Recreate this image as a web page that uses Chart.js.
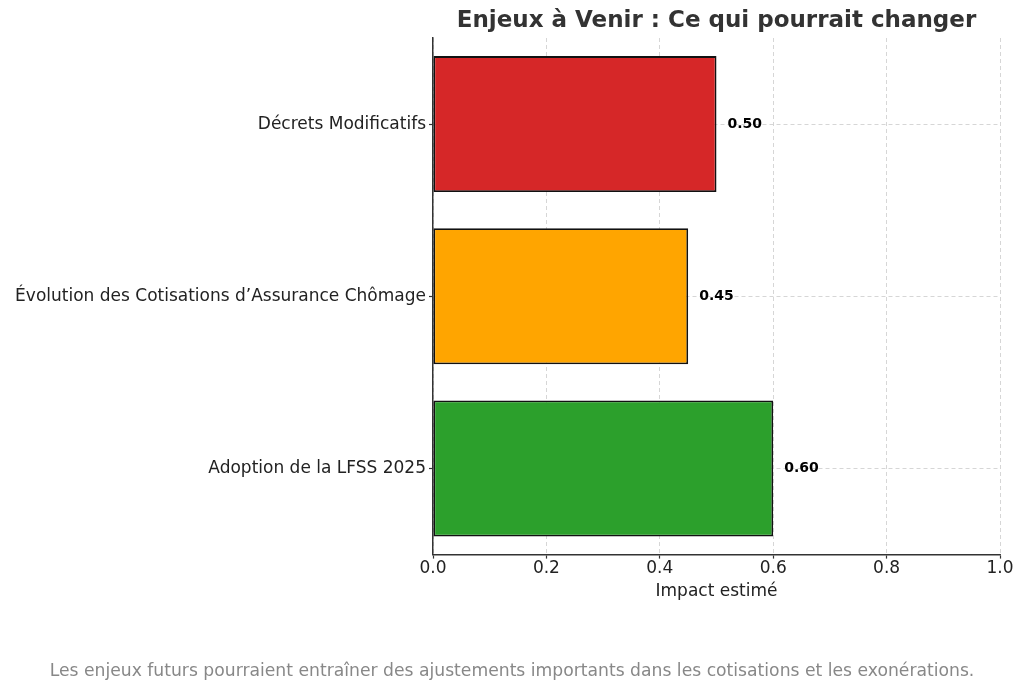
<!DOCTYPE html>
<html lang="fr">
<head>
<meta charset="utf-8">
<script src="https://cdn.jsdelivr.net/npm/chart.js@4"></script>
<style>
  html, body { margin: 0; padding: 0; background: #fff; }
  #wrap { width: 1024px; height: 692px; }
</style>
</head>
<body>
<div id="wrap"><canvas id="chart" width="1024" height="692"></canvas></div>
<script>
// Data
const categories = [
  "Décrets Modificatifs",
  "Évolution des Cotisations d’Assurance Chômage",
  "Adoption de la LFSS 2025"
];
const impacts = [0.50, 0.45, 0.60];
const barColors = ["#d62728", "#ffa500", "#2ca02c"];
const xTicks = [0, 0.2, 0.4, 0.6, 0.8, 1.0];

const titleText = "Enjeux à Venir : Ce qui pourrait changer";
const captionText = "Les enjeux futurs pourraient entraîner des ajustements importants dans les cotisations et les exonérations.";

const FONT = "'DejaVu Sans', sans-serif";

// value labels next to each bar, plus the title and the caption
const annotate = {
  id: "annotate",
  afterDatasetsDraw(chart) {
    const ctx = chart.ctx;
    const meta = chart.getDatasetMeta(0);
    ctx.save();
    ctx.font = "bold 14px " + FONT;
    ctx.fillStyle = "#000";
    ctx.textAlign = "left";
    ctx.textBaseline = "middle";
    meta.data.forEach((bar, i) => {
      ctx.fillText(impacts[i].toFixed(2), bar.x + 11, bar.y);
    });
    ctx.restore();
  },
  afterDraw(chart) {
    const ctx = chart.ctx;
    const area = chart.chartArea;
    ctx.save();
    ctx.textAlign = "center";
    ctx.textBaseline = "middle";
    ctx.font = "bold 23px " + FONT;
    ctx.fillStyle = "#333";
    ctx.fillText(titleText, (area.left + area.right) / 2, 21);
    ctx.font = "17.2px " + FONT;
    ctx.fillStyle = "#888";
    ctx.fillText(captionText, 512, 672);
    ctx.restore();
  }
};

const gridOpts = {
  color: "#cccccc",
  lineWidth: 0.8,
  tickColor: "#333",
  tickBorderDash: [],
  tickLength: 4,
  tickWidth: 1.2
};
const borderOpts = { display: true, color: "#333", width: 1.5, dash: [4, 3] };

new Chart(document.getElementById("chart"), {
  type: "bar",
  data: {
    labels: categories,
    datasets: [{
      data: impacts,
      backgroundColor: barColors,
      borderColor: "#111",
      borderWidth: 1.8,
      borderSkipped: false,
      barPercentage: 0.79,
      categoryPercentage: 1.0
    }]
  },
  options: {
    indexAxis: "y",
    responsive: false,
    animation: false,
    layout: { padding: { top: 38, right: 24, bottom: 90, left: 0 } },
    plugins: {
      legend: { display: false },
      tooltip: { enabled: false },
      title: { display: false }
    },
    scales: {
      x: {
        type: "linear",
        min: 0,
        max: 1,
        afterBuildTicks: (scale) => { scale.ticks = xTicks.map(v => ({ value: v })); },
        ticks: {
          color: "#222",
          font: { family: FONT, size: 17, lineHeight: 1 },
          padding: 1,
          maxRotation: 0,
          callback: (v) => Number(v).toFixed(1)
        },
        grid: gridOpts,
        border: borderOpts,
        title: {
          display: true,
          text: "Impact estimé",
          color: "#222",
          font: { family: FONT, size: 17, lineHeight: 1.2 },
          padding: { top: 4, bottom: 0 }
        }
      },
      y: {
        afterFit: (scale) => { scale.width = 433; },
        ticks: {
          color: "#222",
          font: { family: FONT, size: 17 },
          padding: 3
        },
        grid: Object.assign({}, gridOpts, { offset: false }),
        border: borderOpts
      }
    }
  },
  plugins: [annotate]
});
</script>
</body>
</html>
